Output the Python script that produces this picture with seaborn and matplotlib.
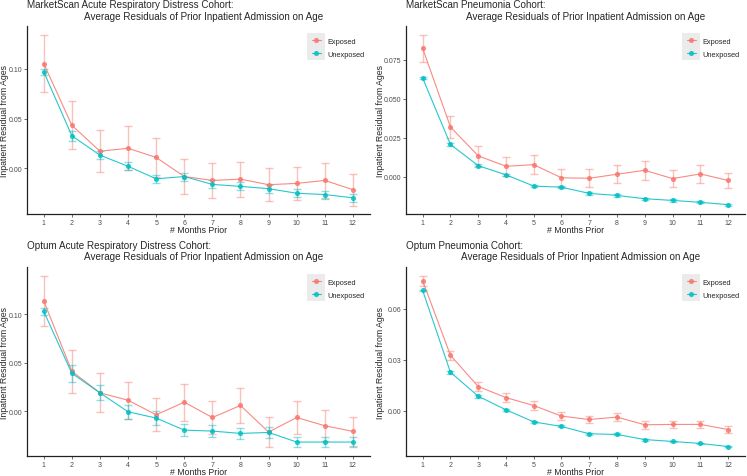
import numpy as np
import pandas as pd
import seaborn as sns
import matplotlib.pyplot as plt
from matplotlib.patches import Rectangle

months = list(range(1, 13))
groups = ["Exposed", "Unexposed"]

# MarketScan ARDS
ms_ards_exp = [0.1053, 0.0432, 0.0172, 0.0201, 0.0109, -0.0083, -0.0122, -0.0109, -0.0165, -0.0152, -0.0122, -0.0215]
ms_ards_exp_err = [0.029, 0.024, 0.021, 0.022, 0.020, 0.018, 0.0175, 0.0175, 0.0165, 0.017, 0.0175, 0.016]
ms_ards_unexp = [0.097, 0.0327, 0.0132, 0.0020, -0.0106, -0.0083, -0.0162, -0.0182, -0.0205, -0.0251, -0.0264, -0.0297]
ms_ards_unexp_err = [0.003, 0.005, 0.004, 0.004, 0.004, 0.004, 0.004, 0.004, 0.004, 0.004, 0.004, 0.004]

# MarketScan Pneumonia
ms_pn_exp = [0.0822, 0.0318, 0.0133, 0.0066, 0.0076, -0.0008, -0.0011, 0.0015, 0.0040, -0.0013, 0.0017, -0.0025]
ms_pn_exp_err = [0.0087, 0.007, 0.0064, 0.006, 0.006, 0.0057, 0.0057, 0.0056, 0.006, 0.0055, 0.0057, 0.005]
ms_pn_unexp = [0.0631, 0.0206, 0.0070, 0.0011, -0.0061, -0.0068, -0.0108, -0.0121, -0.0142, -0.0153, -0.0165, -0.0180]
ms_pn_unexp_err = [0.0008, 0.0012, 0.001, 0.0008, 0.0008, 0.0008, 0.0007, 0.0007, 0.0007, 0.0007, 0.0007, 0.0006]

# Optum ARDS
op_ards_exp = [0.114, 0.0414, 0.0192, 0.0116, -0.0034, 0.0096, -0.0062, 0.0062, -0.0212, -0.0062, -0.0147, -0.0205]
op_ards_exp_err = [0.026, 0.022, 0.02, 0.019, 0.017, 0.019, 0.017, 0.0185, 0.015, 0.017, 0.016, 0.015]
op_ards_unexp = [0.1031, 0.0394, 0.0192, -0.0003, -0.0068, -0.0192, -0.0202, -0.0226, -0.0216, -0.0315, -0.0315, -0.0315]
op_ards_unexp_err = [0.004, 0.0088, 0.0077, 0.007, 0.0068, 0.0065, 0.0065, 0.006, 0.006, 0.0055, 0.0055, 0.0055]

# Optum Pneumonia
op_pn_exp = [0.0765, 0.0327, 0.0143, 0.0078, 0.0031, -0.0031, -0.0051, -0.0037, -0.0082, -0.0080, -0.0080, -0.0110]
op_pn_exp_err = [0.003, 0.0027, 0.0025, 0.0024, 0.0024, 0.0023, 0.0023, 0.0024, 0.0022, 0.0022, 0.0022, 0.002]
op_pn_unexp = [0.0708, 0.0227, 0.0086, 0.0006, -0.0065, -0.0092, -0.0135, -0.0139, -0.0169, -0.0180, -0.0192, -0.0210]
op_pn_unexp_err = [0.0005, 0.001, 0.0008, 0.0006, 0.0006, 0.0006, 0.0006, 0.0006, 0.0006, 0.0005, 0.0005, 0.0005]

titles = [
    ("MarketScan Acute Respiratory Distress Cohort:", "Average Residuals of Prior Inpatient Admission on Age"),
    ("MarketScan Pneumonia Cohort:", "Average Residuals of Prior Inpatient Admission on Age"),
    ("Optum Acute Respiratory Distress Cohort:", "Average Residuals of Prior Inpatient Admission on Age"),
    ("Optum Pneumonia Cohort:", "Average Residuals of Prior Inpatient Admission on Age"),
]
yticks = [[0.0, 0.05, 0.10], [0.0, 0.025, 0.05, 0.075], [0.0, 0.05, 0.10], [0.0, 0.03, 0.06]]
yticklabels = [["0.00", "0.05", "0.10"], ["0.000", "0.025", "0.050", "0.075"],
               ["0.00", "0.05", "0.10"], ["0.00", "0.03", "0.06"]]

panels = [
    (ms_ards_exp, ms_ards_exp_err, ms_ards_unexp, ms_ards_unexp_err),
    (ms_pn_exp, ms_pn_exp_err, ms_pn_unexp, ms_pn_unexp_err),
    (op_ards_exp, op_ards_exp_err, op_ards_unexp, op_ards_unexp_err),
    (op_pn_exp, op_pn_exp_err, op_pn_unexp, op_pn_unexp_err),
]

palette = {"Exposed": "#F8766D", "Unexposed": "#00BFC4"}

sns.set_style("white")
plt.rcParams['font.family'] = ['Liberation Sans', 'DejaVu Sans']

fig = plt.figure(figsize=(7.47, 4.77), dpi=100)
# axes boxes (left, bottom, width, height)
boxes = [
    (0.036, 0.549, 0.459, 0.394),
    (0.5435, 0.549, 0.4535, 0.394),
    (0.036, 0.042, 0.459, 0.396),
    (0.5435, 0.042, 0.4535, 0.396),
]
line2_x = [0.166, 0.177, 0.166, 0.162]
ylab_x = [-0.053, -0.062, -0.053, -0.062]

legends = []
for i, (exp, exp_err, unexp, unexp_err) in enumerate(panels):
    ax = fig.add_axes(boxes[i])
    df = pd.DataFrame({
        "month": months * 2,
        "resid": exp + unexp,
        "err": exp_err + unexp_err,
        "group": ["Exposed"] * 12 + ["Unexposed"] * 12,
    })
    for g in groups:
        sub = df[df.group == g]
        ax.errorbar(sub.month, sub.resid, yerr=sub.err, fmt="none", ecolor=palette[g],
                    alpha=0.45, elinewidth=1.0, capsize=3, capthick=1.0, zorder=1)
    sns.lineplot(data=df, x="month", y="resid", hue="group", palette=palette, marker="o",
                 markersize=3.7, markeredgewidth=0, linewidth=0.8, alpha=0.85, ax=ax, zorder=3)

    ax.set_xlim(0.4, 12.6)
    ax.set_xticks(months)
    ax.set_yticks(yticks[i])
    ax.set_yticklabels(yticklabels[i])
    ax.tick_params(axis="both", labelsize=5.0, labelcolor="#4d4d4d", length=2,
                   width=0.5, color="#333333", pad=1.5, left=True, bottom=True)
    for s in ["top", "right"]:
        ax.spines[s].set_visible(False)
    for s in ["left", "bottom"]:
        ax.spines[s].set_color("#222222")
        ax.spines[s].set_linewidth(0.9)
    ax.set_xlabel("# Months Prior", fontsize=6.3)
    ax.set_ylabel("Inpatient Residual from Ages", fontsize=6.3)
    ax.xaxis.set_label_coords(0.5, -0.058)
    ax.yaxis.set_label_coords(ylab_x[i], 0.5)

    ax.annotate(titles[i][0], xy=(0, 1), xycoords="axes fraction", xytext=(0, 13.5),
                textcoords="offset points", fontsize=7.1, va="baseline", ha="left")
    ax.annotate(titles[i][1], xy=(line2_x[i], 1), xycoords="axes fraction", xytext=(0, 5.5),
                textcoords="offset points", fontsize=7.1, va="baseline", ha="left")

    leg = ax.legend(loc="upper right", bbox_to_anchor=(1.0, 0.965), frameon=False, fontsize=5.3,
                    title=None, handlelength=1.25, handletextpad=0.9, labelspacing=0.75,
                    borderaxespad=0.3)
    legends.append((ax, leg))

# grey key background behind legend symbols, ggplot style
fig.canvas.draw()
for ax, leg in legends:
    exts = [h.get_window_extent() for h in leg.legend_handles]
    x0 = min(e.x0 for e in exts) - 2
    x1 = max(e.x1 for e in exts) + 2
    ys = [(e.y0 + e.y1) / 2 for e in exts]
    y0 = min(ys) - 7
    y1 = max(ys) + 7.5
    inv = ax.transAxes.inverted()
    (ax0, ay0) = inv.transform((x0, y0))
    (ax1, ay1) = inv.transform((x1, y1))
    ax.add_patch(Rectangle((ax0, ay0), ax1 - ax0, ay1 - ay0, transform=ax.transAxes,
                           facecolor="#EBEBEB", edgecolor="none", zorder=0, clip_on=False))

fig.savefig("out.png", dpi=100)
